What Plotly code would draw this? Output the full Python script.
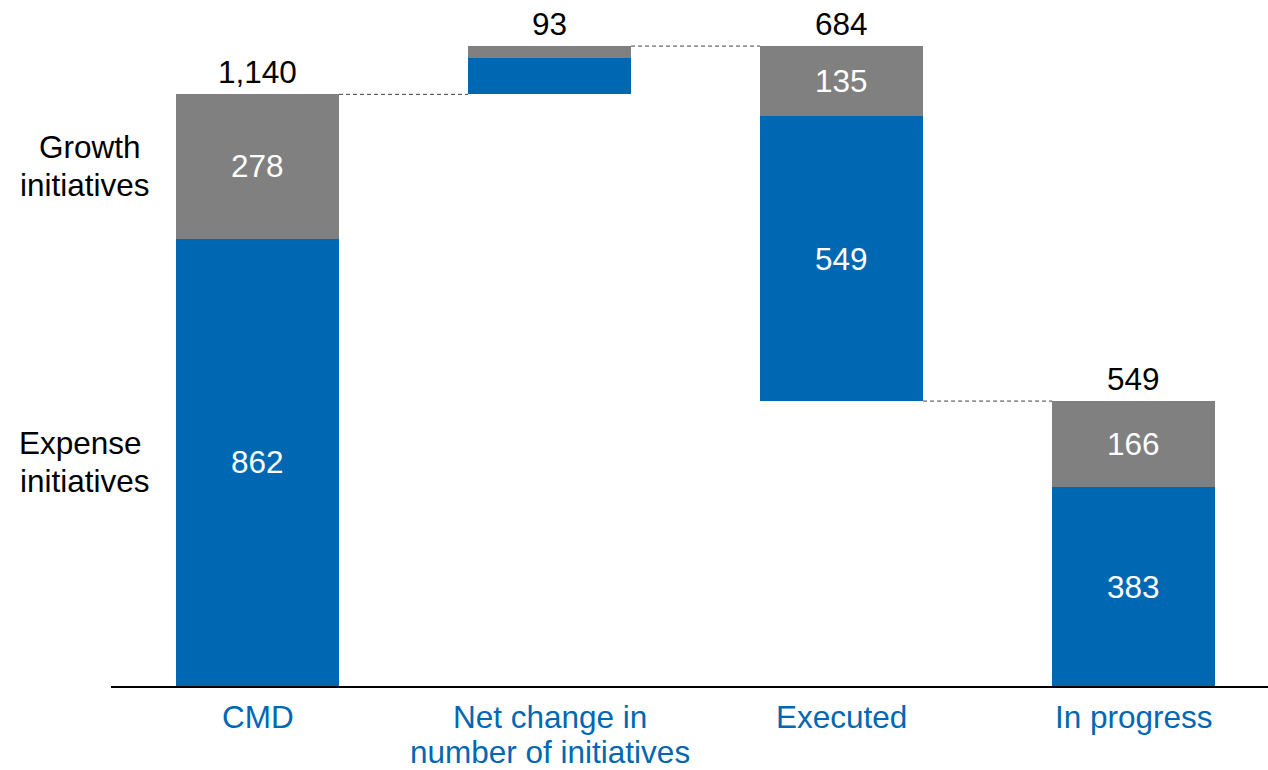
import plotly.graph_objects as go

# ---- data ----
categories = ["CMD", "Net change in number of initiatives", "Executed", "In progress"]
label_lines = [["CMD"], ["Net change in", "number of initiatives"], ["Executed"], ["In progress"]]
base_vals = [0, 1140, 549, 0]
expense_vals = [862, 70, 549, 383]
growth_vals = [278, 23, 135, 166]
total_labels = ["1,140", "93", "684", "549"]
show_segment_labels = [True, False, True, True]
side_growth = ["Growth", "initiatives"]
side_expense = ["Expense", "initiatives"]

BLUE = "#0068B3"
GRAY = "#808080"
FONT = "Arial, 'Liberation Sans', sans-serif"
FS = 31.5
BW = 0.558

x = list(range(len(categories)))
tops = [b + e + g for b, e, g in zip(base_vals, expense_vals, growth_vals)]

fig = go.Figure()
fig.add_trace(go.Bar(x=x, y=base_vals, width=BW, opacity=0,
                     marker=dict(color="rgba(0,0,0,0)", line=dict(width=0, color="rgba(0,0,0,0)")),
                     hoverinfo="skip", showlegend=False))
fig.add_trace(go.Bar(x=x, y=expense_vals, width=BW, marker=dict(color=BLUE, line=dict(width=0)),
                     name="Expense initiatives", showlegend=False))
fig.add_trace(go.Bar(x=x, y=growth_vals, width=BW, marker=dict(color=GRAY, line=dict(width=0)),
                     name="Growth initiatives", showlegend=False))

ann = []
# segment labels
for i in x:
    if show_segment_labels[i]:
        ann.append(dict(x=i, y=base_vals[i] + expense_vals[i] / 2, xref="x", yref="y",
                        text=str(expense_vals[i]), showarrow=False,
                        font=dict(family=FONT, size=FS, color="white")))
        ann.append(dict(x=i, y=base_vals[i] + expense_vals[i] + growth_vals[i] / 2, xref="x", yref="y",
                        text=str(growth_vals[i]), showarrow=False,
                        font=dict(family=FONT, size=FS, color="white")))
    # totals
    ann.append(dict(x=i, y=tops[i], xref="x", yref="y", text=total_labels[i], showarrow=False,
                    yanchor="middle", yshift=22, font=dict(family=FONT, size=FS, color="black")))
    # category labels
    for j, line in enumerate(label_lines[i]):
        ann.append(dict(x=i, y=0, xref="x", yref="paper", text=line, showarrow=False,
                        yanchor="middle", yshift=-31 - 35 * j,
                        font=dict(family=FONT, size=FS, color=BLUE)))

# side labels (aligned to CMD segments)
g_mid = base_vals[0] + expense_vals[0] + growth_vals[0] / 2
e_mid = base_vals[0] + expense_vals[0] / 2
for txt, xs, ys in [(side_growth[0], -21, 19), (side_growth[1], -26, -19)]:
    ann.append(dict(x=0, y=g_mid, xref="paper", yref="y", text=txt, showarrow=False,
                    xanchor="center", yanchor="middle",
                    xshift=xs, yshift=ys, font=dict(family=FONT, size=FS, color="black")))
for txt, xs, ys in [(side_expense[0], -31, 19), (side_expense[1], -26, -19)]:
    ann.append(dict(x=0, y=e_mid, xref="paper", yref="y", text=txt, showarrow=False,
                    xanchor="center", yanchor="middle",
                    xshift=xs, yshift=ys, font=dict(family=FONT, size=FS, color="black")))

# connectors
conn_levels = [tops[0], tops[1], base_vals[2]]
shapes = []
for i, lvl in enumerate(conn_levels):
    shapes.append(dict(type="line", xref="x", yref="y", x0=i + BW / 2, x1=i + 1 - BW / 2,
                       y0=lvl, y1=lvl, line=dict(color="#404040", width=1, dash="4px,3px")))

fig.update_layout(
    barmode="stack",
    width=1268, height=770,
    margin=dict(l=111, r=0, t=0, b=84),
    plot_bgcolor="white", paper_bgcolor="white",
    annotations=ann, shapes=shapes,
    xaxis=dict(range=[-0.5017, 3.46], showline=True, linecolor="black", linewidth=1.5,
               showticklabels=False, ticks="", showgrid=False, zeroline=False),
    yaxis=dict(range=[0, 1321.8], visible=False, showgrid=False, zeroline=False),
    font=dict(family=FONT),
)

fig.write_html("out.html")
